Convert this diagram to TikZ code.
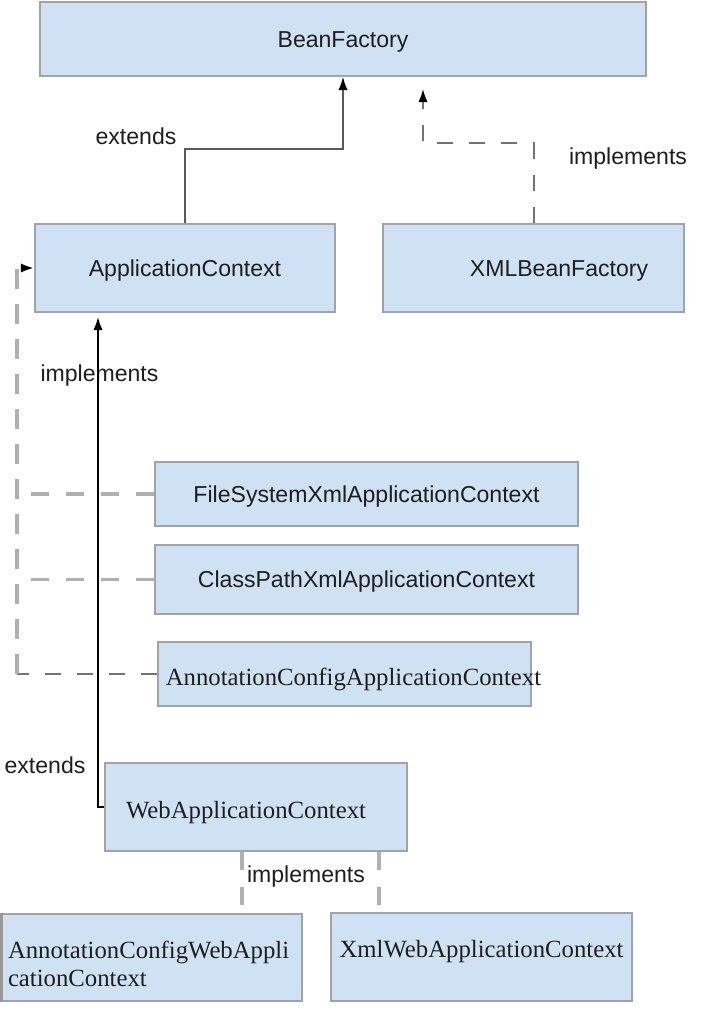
\documentclass[tikz,border=0pt]{standalone}
\usepackage{fontspec}
\setmainfont{Liberation Serif}
\setsansfont{Liberation Sans}
\usetikzlibrary{arrows.meta}
\newlength\pxunit
\setlength\pxunit{0.025cm}
\definecolor{boxfill}{HTML}{CFE2F3}
\definecolor{boxline}{HTML}{A0A4A8}
\definecolor{dashgray}{HTML}{B0B0B0}
\definecolor{darkline}{HTML}{5A5A5A}
\definecolor{txt}{HTML}{1E1E1E}
\tikzset{
  box/.style={draw=boxline, fill=boxfill, line width=1.07pt, inner sep=0pt, text=txt},
  sbox/.style={box, font=\sffamily\fontsize{16.4}{19}\selectfont, text height=12pt, text depth=0pt},
  rbox/.style={box, font=\rmfamily\fontsize{17.6}{19.9}\selectfont},
  rline/.style={rbox, text height=16.7pt, text depth=0pt},
  lbl/.style={font=\sffamily\fontsize{16.4}{19}\selectfont, text=txt, inner sep=0pt},
  tip/.style={-{Latex[length=9.5pt,width=6.6pt,color=black]}},
  ext/.style={draw=darkline, line width=1.14pt, tip},
  extb/.style={draw=black, line width=1.42pt, tip},
  impl/.style={draw=dashgray, line width=2.35pt, dash pattern=on 12.8pt off 12.1pt},
  impltrunk/.style={draw=dashgray, line width=3.2pt, dash pattern=on 14.2pt off 10.7pt},
  impldark/.style={draw=darkline!85, line width=1.42pt, dash pattern=on 11.4pt off 11.4pt}
}
\begin{document}
\begin{tikzpicture}[x=\pxunit, y=-\pxunit]
  \useasboundingbox (0,0) rectangle (720,1024);

  % classes and interfaces
  \node[sbox, minimum width=606\pxunit, minimum height=74\pxunit] (bf)  at (343,39)    {BeanFactory};
  \node[sbox, minimum width=300\pxunit, minimum height=88\pxunit] (ac)  at (185,268)   {ApplicationContext};
  \node[sbox, minimum width=301\pxunit, minimum height=88\pxunit] (xbf) at (533.5,268) {\hspace*{51\pxunit}XMLBeanFactory};
  \node[sbox, minimum width=423\pxunit, minimum height=64\pxunit] (fsx) at (366.5,494) {FileSystemXmlApplicationContext};
  \node[sbox, minimum width=423\pxunit, minimum height=69\pxunit] (cpx) at (366.5,579.5) {ClassPathXmlApplicationContext};
  \node[rline, minimum width=373\pxunit, minimum height=64\pxunit] (acac) at (344.5,674)
    {\makebox[0pt]{\hspace*{18\pxunit}AnnotationConfigApplicationContext}};
  \node[rline, minimum width=302\pxunit, minimum height=88\pxunit] (wac) at (256,807)
    {WebApplicationContext\hspace*{20\pxunit}};
  \node[rbox, text width=286\pxunit, inner xsep=8\pxunit, align=left, text depth=16\pxunit,
        minimum height=87\pxunit] (acwac) at (151,957.5)
    {AnnotationConfigWebAppli\\cationContext};
  \node[rline, minimum width=301\pxunit, minimum height=88\pxunit] (xwac) at (481.5,957)
    {\raisebox{11\pxunit}{XmlWebApplicationContext}};
  \draw[line width=2.8pt, gray!80] ([xshift=1.4pt]acwac.north west) -- ([xshift=1.4pt]acwac.south west);

  % labels
  \node[lbl] (lext1) at (136,136) {extends};
  \node[lbl] (limp1) at (628,159) {implements};
  \node[lbl] (limp2) at (99.5,376) {implements};
  \node[lbl] (lext2) at (45,765) {extends};
  \node[lbl] (limp3) at (306,877) {implements};

  % relations
  \draw[ext] (ac.north) -- ++(0,-74) -| (bf.south);
  \draw[impldark, tip, shorten >=12\pxunit] (xbf.north) -- ++(0,-80) -| ([xshift=80\pxunit]bf.south);

  \coordinate (trunk) at (17,674);
  \draw[impldark] (acac.west) -- (trunk);
  \draw[impltrunk, tip] (trunk) |- (ac.west);
  \draw[impl] (fsx.west) -- (fsx.west -| trunk);
  \draw[impl] (cpx.west) -- (cpx.west -| trunk);

  \draw[extb, shorten >=4\pxunit] (wac.west) -| ([xshift=-87\pxunit]ac.south);

  \draw[impl, shorten >=6\pxunit] ([xshift=-14\pxunit]wac.south) -- ([xshift=-14\pxunit]wac.south |- acwac.north);
  \draw[impl, shorten >=6\pxunit] ([xshift=123\pxunit]wac.south) -- ([xshift=123\pxunit]wac.south |- xwac.north);
\end{tikzpicture}
\end{document}
